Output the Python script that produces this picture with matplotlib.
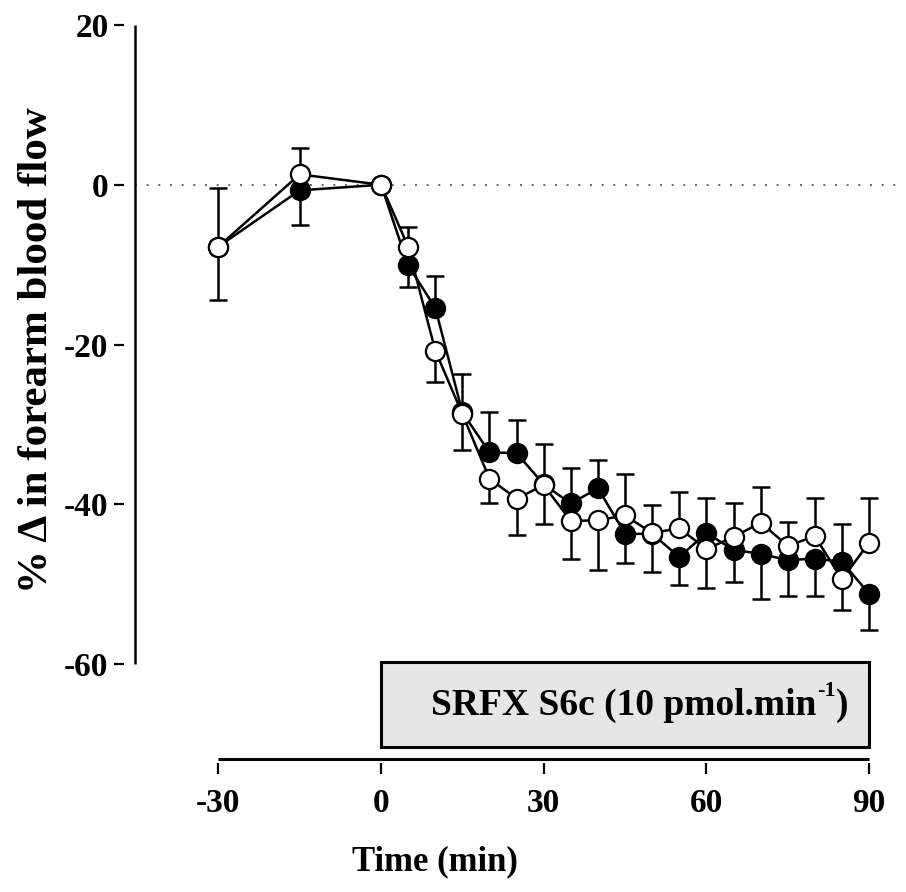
import numpy as np
import matplotlib
matplotlib.use("Agg")
import matplotlib.pyplot as plt
from matplotlib.patches import Rectangle

# ---------------- data ----------------
time = [-30, -15, 0, 5, 10, 15, 20, 25, 30, 35, 40, 45, 50, 55, 60, 65, 70, 75, 80, 85, 90]

filled_y = [-7.75, -0.7, 0.0, -10.1, -15.4, -28.5, -33.5, -33.6, -37.5, -39.9, -38.0,
            -43.7, -43.7, -46.6, -43.6, -45.7, -46.2, -47.0, -46.8, -47.2, -51.2]
filled_err_up = [0, 0, 0, 0, 4.0, 4.75, 5.0, 4.1, 0, 4.5, 3.5,
                 0, 0, 0, 4.4, 0, 0, 0, 0, 4.7, 0]
filled_err_dn = [0, 4.4, 0, 2.65, 0, 0, 0, 0, 0, 0, 0,
                 3.7, 0, 3.5, 0, 4.0, 5.6, 4.5, 4.7, 0, 4.55]

open_y = [-7.75, 1.3, 0.0, -7.75, -20.75, -28.7, -36.8, -39.3, -37.6, -42.1, -42.0,
          -41.4, -43.6, -43.0, -45.6, -44.1, -42.3, -45.2, -44.0, -49.4, -44.8]
open_err_up = [7.35, 3.3, 0, 2.5, 0, 0, 0, 0, 5.2, 0, 0,
               5.2, 3.5, 4.5, 0, 4.3, 4.5, 3.0, 4.8, 0, 5.6]
open_err_dn = [6.65, 0, 0, 0, 3.95, 4.5, 3.0, 4.5, 4.9, 4.7, 6.2,
               0, 4.9, 0, 4.9, 0, 0, 0, 0, 3.8, 0]

x_ticks = [-30, 0, 30, 60, 90]
y_ticks = [-60, -40, -20, 0, 20]
infusion_start, infusion_end = 0, 90
infusion_label = "SRFX S6c (10 pmol.min"
infusion_sup = "-1"
x_label = "Time (min)"
y_label = "% \u0394 in forearm blood flow"

# ---------------- style ----------------
plt.rcParams['font.family'] = ['Liberation Serif', 'DejaVu Serif']
plt.rcParams['font.weight'] = 'bold'

W, H = 906, 892
fig = plt.figure(figsize=(W / 100, H / 100), dpi=100)
ax = fig.add_axes([135 / W, 1 - 823.8 / H, (900 - 135) / W, 802.8 / H])
ax.set_xlim(-45.37, 95.7)
ax.set_ylim(-80, 20.5)

for s in ax.spines.values():
    s.set_visible(False)

# y axis line (drawn separately so ticks have a gap)
ax.plot([0, 0], [-60, 20], transform=ax.get_yaxis_transform(), color='black',
        lw=1.8, clip_on=False, solid_capstyle='butt')
ax.spines['left'].set_position(('outward', 8))
ax.set_yticks(y_ticks)
ax.set_yticklabels([str(v) for v in y_ticks])
ax.tick_params(axis='y', direction='out', length=7, width=1.6, pad=4,
               labelsize=24, left=True)

# x axis line
x_axis_y = -71.88
ax.plot([x_ticks[0], x_ticks[-1]], [x_axis_y, x_axis_y], color='black', lw=2.2,
        clip_on=False, solid_capstyle='butt')
ax.spines['bottom'].set_position(('data', -72.4))
ax.set_xticks(x_ticks)
ax.set_xticklabels([str(v) for v in x_ticks])
ax.tick_params(axis='x', direction='out', length=8, width=1.6, pad=10,
               labelsize=24, bottom=True)

# reference dotted line
ax.axhline(0, color='#666666', lw=1.4, ls=(0, (1, 5)), zorder=1)

# infusion box
ax.add_patch(Rectangle((infusion_start, -70.4), infusion_end - infusion_start, 10.62,
                       facecolor='#e6e6e6', edgecolor='black', lw=2.2, zorder=1,
                       clip_on=False))
t1 = ax.text(9.3, -65.2, infusion_label, ha='left', va='center', fontsize=27,
             fontweight='bold', zorder=2)
t2 = ax.annotate(infusion_sup, xy=(1.0, 0.62), xycoords=t1, ha='left', va='bottom',
                 fontsize=16, fontweight='bold', zorder=2)
ax.annotate(")", xy=(1.0, 0.0), xycoords=(t2, t1), ha='left', va='bottom',
            fontsize=27, fontweight='bold', zorder=2)

ms, mew = 13.8, 1.6
# error bars
ax.errorbar(time, filled_y, yerr=[filled_err_dn, filled_err_up], fmt='none',
            ecolor='black', elinewidth=1.8, capsize=6.5, capthick=1.8, zorder=2)
ax.errorbar(time, open_y, yerr=[open_err_dn, open_err_up], fmt='none',
            ecolor='black', elinewidth=1.8, capsize=6.5, capthick=1.8, zorder=2)
# lines
ax.plot(time, filled_y, color='black', lw=1.8, zorder=3)
ax.plot(time, open_y, color='black', lw=1.8, zorder=3)
# markers
ax.plot(time, filled_y, ls='none', marker='o', ms=ms, mfc='black', mec='black',
        mew=mew, zorder=4)
ax.plot(time, open_y, ls='none', marker='o', ms=ms, mfc='white', mec='black',
        mew=mew, zorder=5)

fig.text(37 / W, 1 - 350 / H, y_label, rotation=90, ha='center', va='center',
         fontsize=31, fontweight='bold')
fig.text(435 / W, 1 - 862 / H, x_label, ha='center', va='center',
         fontsize=25, fontweight='bold')

fig.savefig('out.png', dpi=100)
